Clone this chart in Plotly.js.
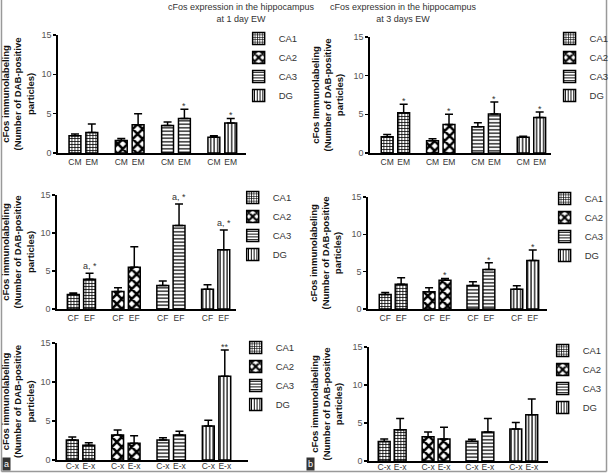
<!DOCTYPE html>
<html><head><meta charset="utf-8">
<script src="https://cdn.plot.ly/plotly-3.0.1.min.js"></script>
<style>html,body{margin:0;padding:0;background:#fff}#chart{width:614px;height:473px}</style>
</head><body><div id="chart"></div>
<script>
// ---------------- DATA ----------------
const regions = ['CA1', 'CA2', 'CA3', 'DG'];

// Panel 1: 1 day EW, CM vs EM
const p1Groups = ['CM', 'EM'];
const p1Ctrl = [2.2, 1.6, 3.5, 2.0];
const p1CtrlErr = [0.2, 0.25, 0.45, 0.2];
const p1Exp = [2.6, 3.6, 4.4, 3.8];
const p1ExpErr = [1.1, 1.4, 1.15, 0.6];
const p1Marks = ['', '', '*', '*'];

// Panel 2: 3 days EW, CM vs EM
const p2Groups = ['CM', 'EM'];
const p2Ctrl = [2.1, 1.6, 3.4, 2.05];
const p2CtrlErr = [0.3, 0.25, 0.5, 0.1];
const p2Exp = [5.2, 3.7, 5.05, 4.6];
const p2ExpErr = [1.1, 1.3, 1.55, 0.7];
const p2Marks = ['*', '*', '*', '*'];

// Panel 3: 1 day EW, CF vs EF
const p3Groups = ['CF', 'EF'];
const p3Ctrl = [1.9, 2.3, 3.1, 2.6];
const p3CtrlErr = [0.2, 0.5, 0.6, 0.6];
const p3Exp = [3.9, 5.5, 11.0, 7.8];
const p3ExpErr = [0.8, 2.7, 2.8, 2.6];
const p3Marks = ['a, *', '', 'a, *', 'a, *'];

// Panel 4: 3 days EW, CF vs EF
const p4Groups = ['CF', 'EF'];
const p4Ctrl = [1.95, 2.3, 3.15, 2.65];
const p4CtrlErr = [0.25, 0.55, 0.5, 0.45];
const p4Exp = [3.3, 3.85, 5.3, 6.5];
const p4ExpErr = [0.9, 0.25, 0.9, 1.4];
const p4Marks = ['', '*', '*', '*'];

// Panel 5: 1 day EW, C-x vs E-x
const p5Groups = ['C-x', 'E-x'];
const p5Ctrl = [2.55, 3.2, 2.55, 4.35];
const p5CtrlErr = [0.4, 0.65, 0.3, 0.75];
const p5Exp = [1.9, 2.15, 3.2, 10.75];
const p5ExpErr = [0.3, 0.95, 0.5, 3.35];
const p5Marks = ['', '', '', '**'];

// Panel 6: 3 days EW, C-x vs E-x
const p6Groups = ['C-x', 'E-x'];
const p6Ctrl = [2.55, 3.2, 2.6, 4.2];
const p6CtrlErr = [0.35, 0.6, 0.25, 0.85];
const p6Exp = [4.1, 2.9, 3.8, 6.1];
const p6ExpErr = [1.5, 1.55, 1.8, 2.05];
const p6Marks = ['', '', '', ''];

const yTicks = [0, 5, 10, 15];
const yTitleA = 'cFos immunolabeling<br>(Number of DAB-positive<br>particles)';
const yTitleB = 'cFos Immunolabeling<br>(Number of DAB-positive<br>particles)';
const titleLeft = 'cFos expression in the hippocampus<br>at 1 day EW';
const titleRight = 'cFos expression in the hippocampus<br>at 3 days EW';
const panelLetters = ['a', 'b'];

// ---------------- STYLE / LAYOUT ----------------
const W = 614, H = 473;
const FONT = 'Liberation Sans, Arial, sans-serif';
const P = 2.75; // pair period in bar units

const panels = [
  {groups: p1Groups, ctrl: p1Ctrl, ctrlErr: p1CtrlErr, exp: p1Exp, expErr: p1ExpErr, marks: p1Marks, yTitle: yTitleA},
  {groups: p2Groups, ctrl: p2Ctrl, ctrlErr: p2CtrlErr, exp: p2Exp, expErr: p2ExpErr, marks: p2Marks, yTitle: yTitleB},
  {groups: p3Groups, ctrl: p3Ctrl, ctrlErr: p3CtrlErr, exp: p3Exp, expErr: p3ExpErr, marks: p3Marks, yTitle: yTitleA},
  {groups: p4Groups, ctrl: p4Ctrl, ctrlErr: p4CtrlErr, exp: p4Exp, expErr: p4ExpErr, marks: p4Marks, yTitle: yTitleA},
  {groups: p5Groups, ctrl: p5Ctrl, ctrlErr: p5CtrlErr, exp: p5Exp, expErr: p5ExpErr, marks: p5Marks, yTitle: yTitleA},
  {groups: p6Groups, ctrl: p6Ctrl, ctrlErr: p6CtrlErr, exp: p6Exp, expErr: p6ExpErr, marks: p6Marks, yTitle: yTitleA}
];

// pixel geometry: axis start/end, first/last bar centre, top/bottom, legend text x & top, tick label standoff
const geom = [
  {a: 59,  e: 248, f: 75.7, l: 233, yt: 35,  yb: 153, lx: 281, ly: 24,  ts: 0},
  {a: 374, e: 556, f: 391,  l: 545, yt: 37,  yb: 153, lx: 595, ly: 24,  ts: 0},
  {a: 58,  e: 238, f: 74,   l: 226, yt: 195, yb: 309, lx: 275, ly: 183, ts: 0},
  {a: 372, e: 552, f: 389,  l: 538, yt: 197, yb: 309, lx: 590, ly: 184, ts: 0},
  {a: 58,  e: 250, f: 73,   l: 227, yt: 343, yb: 460, lx: 278, ly: 333, ts: -3},
  {a: 373, e: 553, f: 388,  l: 537, yt: 347, yb: 461, lx: 588, ly: 336, ts: -3}
];

const patterns = {
  CA1: {shape: '+', size: 3, solidity: 0.45},
  CA2: {shape: 'x', size: 7, solidity: 0.6},
  CA3: {shape: '-', size: 3.5, solidity: 0.35},
  DG:  {shape: '|', size: 3.5, solidity: 0.35}
};

const traces = [];
const annotations = [];
const layout = {
  width: W, height: H,
  margin: {l: 0, r: 0, t: 0, b: 0},
  paper_bgcolor: 'white', plot_bgcolor: 'white',
  font: {family: FONT, color: '#333'},
  barmode: 'overlay',
  showlegend: true,
  annotations: annotations,
  shapes: []
};

panels.forEach((p, i) => {
  const n = i + 1;
  const sfx = n === 1 ? '' : String(n);
  const xa = 'x' + sfx, ya = 'y' + sfx;
  const legId = 'legend' + sfx;
  const g = geom[i];
  const span = 3 * P + 1;
  const s = (g.l - g.f) / span;
  const tickvals = [], ticktext = [];
  regions.forEach((r, k) => {
    const xs = [k * P, k * P + 1];
    tickvals.push(xs[0], xs[1]);
    ticktext.push(p.groups[0], p.groups[1]);
    traces.push({
      type: 'bar', name: r, x: xs, y: [p.ctrl[k], p.exp[k]],
      xaxis: xa, yaxis: ya, width: 12 / s,
      marker: {color: 'white', line: {color: 'black', width: 1.5},
               pattern: Object.assign({fgcolor: 'black', bgcolor: 'white', fillmode: 'replace'}, patterns[r])},
      error_y: {type: 'data', symmetric: false, array: [p.ctrlErr[k], p.expErr[k]], arrayminus: [0, 0],
                color: 'black', thickness: 1.5, width: 4},
      legend: legId, showlegend: true, hoverinfo: 'skip'
    });
    if (p.marks[k]) {
      annotations.push({
        xref: xa, yref: ya, x: xs[1], y: p.exp[k] + p.expErr[k],
        text: p.marks[k], showarrow: false, yanchor: 'bottom',
        yshift: p.marks[k].startsWith('a') ? 0 : -4,
        font: {size: 9, color: '#333', family: FONT}
      });
    }
  });
  layout['xaxis' + sfx] = {
    domain: [g.a / W, g.e / W], anchor: ya,
    range: [-(g.f - g.a) / s, span + (g.e - g.l) / s],
    tickvals: tickvals, ticktext: ticktext, ticks: '', ticklabelstandoff: g.ts,
    tickfont: {size: 8.5, color: '#333', family: FONT},
    showline: true, linecolor: 'black', linewidth: 2,
    showgrid: false, zeroline: false, fixedrange: true
  };
  layout['yaxis' + sfx] = {
    domain: [1 - g.yb / H, 1 - g.yt / H], anchor: xa,
    range: [0, 15], tickvals: yTicks, ticks: 'outside', ticklen: 3, tickwidth: 1.5, tickcolor: 'black',
    tickfont: {size: 9, color: '#555', family: FONT},
    showline: true, linecolor: 'black', linewidth: 2,
    showgrid: false, zeroline: false, fixedrange: true,
    title: {text: '<b>' + p.yTitle + '</b>', font: {size: 9.5, color: '#111', family: FONT}, standoff: 8}
  };
  layout[legId] = {
    x: (g.lx - 40) / W, y: 1 - g.ly / H, xanchor: 'left', yanchor: 'top',
    font: {size: 9.5, color: '#333', family: FONT},
    bgcolor: 'rgba(0,0,0,0)', borderwidth: 0, traceorder: 'normal'
  };
});

// Figure titles
annotations.push({xref: 'paper', yref: 'paper', x: 168 / W, y: 1, yanchor: 'top', showarrow: false,
  text: titleLeft, font: {size: 9, color: '#333', family: FONT}});
annotations.push({xref: 'paper', yref: 'paper', x: 484 / W, y: 1, yanchor: 'top', showarrow: false,
  text: titleRight, font: {size: 9, color: '#333', family: FONT}});

// Panel letters
[[2, panelLetters[0]], [309, panelLetters[1]]].forEach(([px, t]) => {
  annotations.push({xref: 'paper', yref: 'paper', x: px / W, y: 1 - 471 / H, xanchor: 'left', yanchor: 'bottom',
    showarrow: false, text: t, bgcolor: '#333', borderpad: 1,
    font: {size: 9, color: 'white', family: FONT}});
});

// Figure border (left, bottom, right)
[[1.5, 0, 1.5, 471.5], [1.5, 471.5, 612.5, 471.5], [612.5, 471.5, 612.5, 0]].forEach(([x0, y0, x1, y1]) => {
  layout.shapes.push({type: 'line', xref: 'paper', yref: 'paper',
    x0: x0 / W, y0: 1 - y0 / H, x1: x1 / W, y1: 1 - y1 / H,
    line: {color: '#999', width: 1.5}});
});

Plotly.newPlot('chart', traces, layout, {staticPlot: true, displayModeBar: false});
</script>
</body></html>
